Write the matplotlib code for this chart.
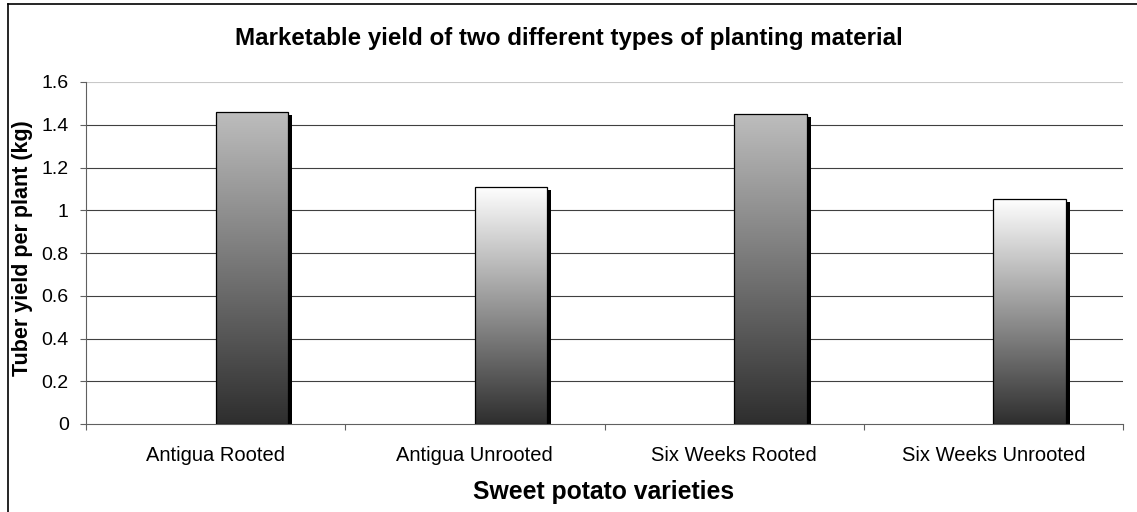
import numpy as np
import matplotlib
matplotlib.use("Agg")
import matplotlib.pyplot as plt
from matplotlib.patches import Rectangle
from matplotlib.lines import Line2D
from matplotlib.colors import LinearSegmentedColormap

categories = ["Antigua Rooted", "Antigua Unrooted", "Six Weeks Rooted", "Six Weeks Unrooted"]
yield_kg = [1.458, 1.110, 1.449, 1.053]
top_colors = ["#bdbdbd", "#ffffff", "#bdbdbd", "#ffffff"]
yticks = [0, 0.2, 0.4, 0.6, 0.8, 1, 1.2, 1.4, 1.6]
ytick_labels = ["0", "0.2", "0.4", "0.6", "0.8", "1", "1.2", "1.4", "1.6"]

plt.rcParams['font.family'] = ['Liberation Sans', 'DejaVu Sans']

W, H = 1137, 512
fig = plt.figure(figsize=(W / 100, H / 100), dpi=100)
ax = fig.add_axes([86 / W, 1 - 424 / H, (1123 - 86) / W, (424 - 82) / H])

ax.set_xlim(0, len(categories))
ax.set_ylim(0, 1.6)

# gridlines
for v in yticks[1:]:
    col = "#c8c8c8" if v == 1.6 else "#404040"
    ax.axhline(v, color=col, lw=0.8, zorder=1)

bar_w = 0.28
px_x = len(categories) / (1123 - 86)
px_y = 1.6 / (424 - 82)
for i, (v, tc) in enumerate(zip(yield_kg, top_colors)):
    x0 = i + 0.5
    # shadow
    ax.add_patch(Rectangle((x0 + bar_w, 0), 4 * px_x, v - 3 * px_y,
                           facecolor="black", edgecolor="none", zorder=2))
    cmap = LinearSegmentedColormap.from_list("g", ["#2e2e2e", tc])
    grad = np.linspace(0, 1, 256).reshape(-1, 1)
    im = ax.imshow(grad, cmap=cmap, aspect="auto", origin="lower",
                   extent=(x0, x0 + bar_w, 0, v), zorder=3, interpolation="bilinear")
    rect = Rectangle((x0, 0), bar_w, v, facecolor="none", edgecolor="black",
                     lw=0.9, zorder=4)
    ax.add_patch(rect)
    im.set_clip_path(rect)

ax.set_xlim(0, len(categories))
ax.set_ylim(0, 1.6)

for s in ["top", "right"]:
    ax.spines[s].set_visible(False)
for s in ["left", "bottom"]:
    ax.spines[s].set_color("#606060")
    ax.spines[s].set_linewidth(0.8)

ax.set_yticks(yticks)
ax.set_yticklabels(ytick_labels, fontsize=14)
ax.tick_params(axis="y", direction="out", length=4.5, width=0.8, color="#606060", pad=8)

ax.set_xticks([i + 0.5 for i in range(len(categories))])
ax.set_xticklabels(categories, fontsize=14.5)
ax.tick_params(axis="x", which="major", length=0, pad=16)
ax.set_xticks(range(len(categories) + 1), minor=True)
ax.tick_params(axis="x", which="minor", direction="out", length=4.5, width=0.8, color="#606060")

fig.text(0.5, 1 - 38 / H, "Marketable yield of two different types of planting material",
         ha="center", va="center", fontsize=17.4, fontweight="bold")
fig.text(604 / W, 1 - 492 / H, "Sweet potato varieties", ha="center", va="center",
         fontsize=17.8, fontweight="bold")
fig.text(23 / W, 1 - 248 / H, "Tuber yield per plant (kg)", ha="center", va="center",
         rotation=90, fontsize=15.5, fontweight="bold")

# chart border
fig.add_artist(Line2D([7.5 / W, 7.5 / W], [0, 1 - 3.5 / H], transform=fig.transFigure,
                      color="black", lw=1.2))
fig.add_artist(Line2D([7.5 / W, 1], [1 - 3.5 / H, 1 - 3.5 / H], transform=fig.transFigure,
                      color="black", lw=1.2))

fig.savefig("out.png", dpi=100)
